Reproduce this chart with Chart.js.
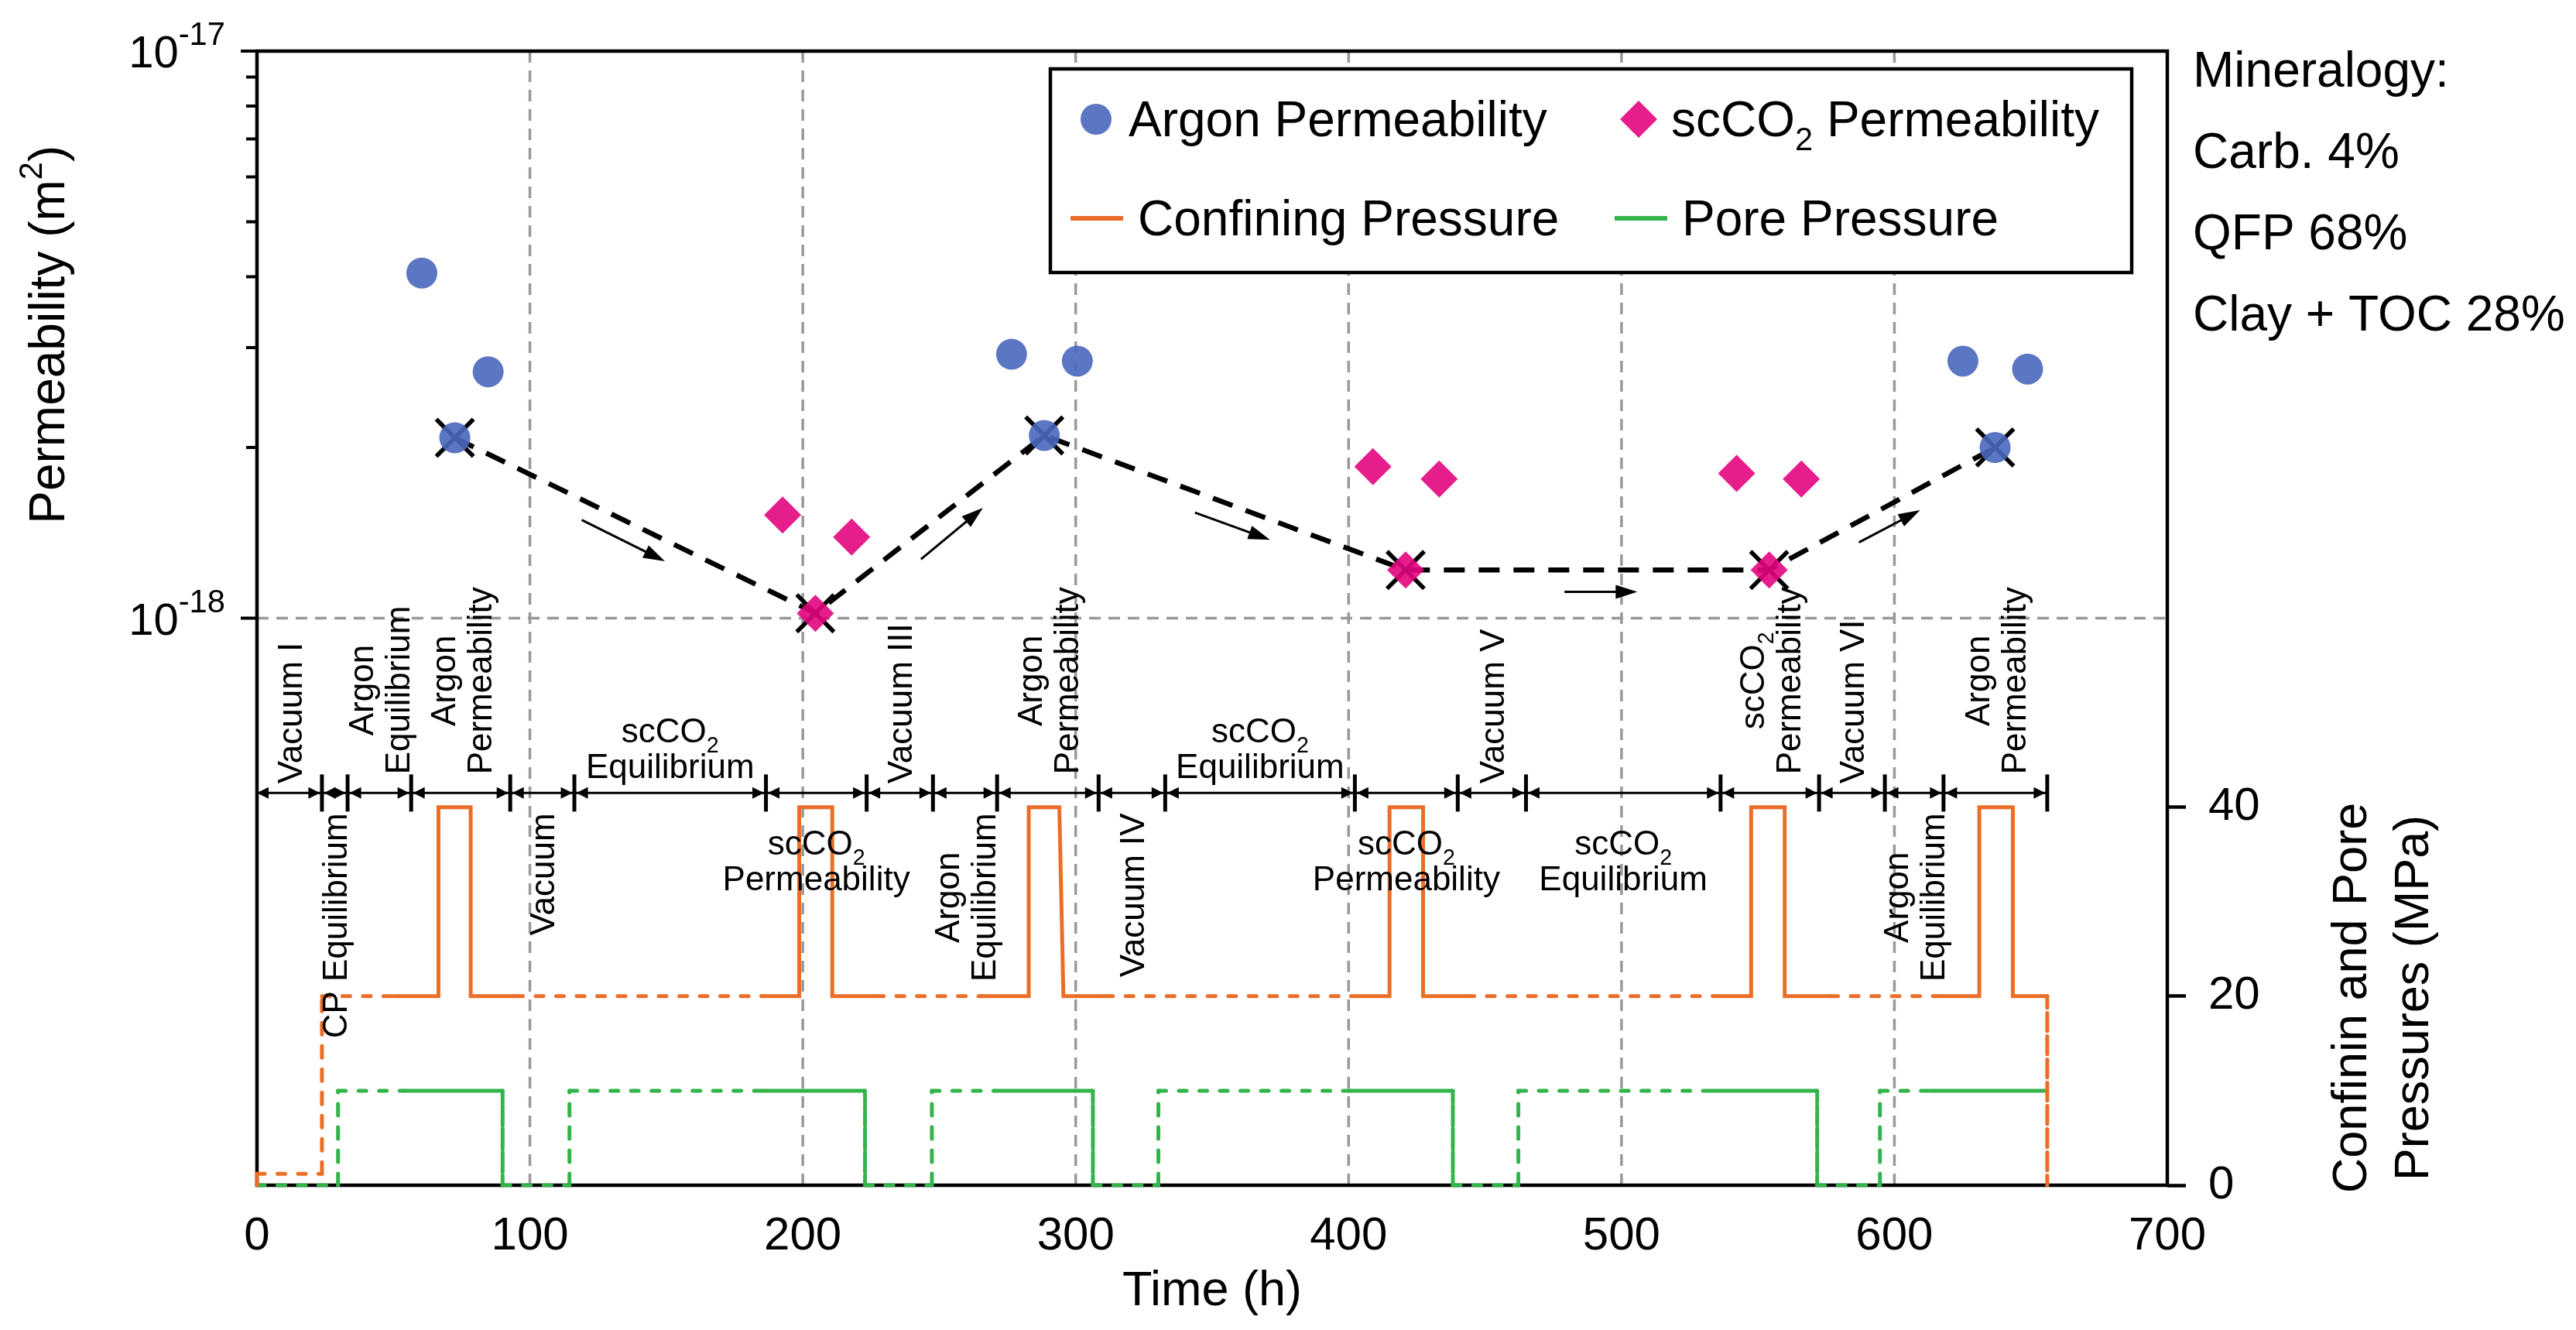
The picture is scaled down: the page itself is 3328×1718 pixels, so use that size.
<!DOCTYPE html>
<html>
<head>
<meta charset="utf-8">
<title>Permeability and pressure history</title>
<script src="https://cdn.jsdelivr.net/npm/chart.js"></script>
<style>
  html, body { margin: 0; padding: 0; background: #fff; }
  #chart { display: block; }
</style>
</head>
<body>
<canvas id="chart" width="3328" height="1718" style="width:3328px;height:1718px"></canvas>
<script>
// permeability measurements: time (h) and permeability (m2)
const argonTime = [60.4, 84.7, 72.5, 276.5, 300.6, 288.5, 625.1, 648.8, 636.9];
const argonPerm = [4.06e-18, 2.72e-18, 2.08e-18, 2.92e-18, 2.84e-18, 2.10e-18, 2.84e-18, 2.75e-18, 2.0e-18];
const co2Time = [192.6, 217.9, 204.6, 408.9, 433.2, 420.9, 542.2, 565.9, 554.1];
const co2Perm = [1.52e-18, 1.39e-18, 1.02e-18, 1.85e-18, 1.76e-18, 1.216e-18, 1.80e-18, 1.76e-18, 1.216e-18];

// crossed values joined by the dashed trend
const trendTime = [72.5, 204.6, 288.5, 420.9, 554.1, 636.9];
const trendPerm = [2.08e-18, 1.02e-18, 2.10e-18, 1.216e-18, 1.216e-18, 2.0e-18];

// small direction arrows beside the trend: [time, permeability]
const arrowFrom = [[119, 1.49e-18], [243.3, 1.27e-18], [343.7, 1.535e-18], [479.1, 1.113e-18], [587, 1.36e-18]];
const arrowTo = [[149.5, 1.26e-18], [266, 1.565e-18], [371.2, 1.375e-18], [505.8, 1.113e-18], [609.4, 1.55e-18]];

// confining pressure history (MPa); measured = 1 where the record is drawn solid
const cpTime = [0, 0, 23.8, 23.8, 50, 66.5, 66.5, 78.3, 78.3, 94.6, 185, 198.7, 198.7, 210.8, 210.8, 226.8,
  265.6, 282.8, 282.8, 294, 295.5, 310.8, 400.9, 415, 415, 427.3, 427.3, 443.2, 534.2, 547.5, 547.5, 559.8,
  559.8, 576.5, 615.5, 631.1, 631.1, 643.4, 643.4, 656, 656];
const cpValue = [0, 1.2, 1.2, 20, 20, 20, 40, 40, 20, 20, 20, 20, 40, 40, 20, 20,
  20, 20, 40, 40, 20, 20, 20, 20, 40, 40, 20, 20, 20, 20, 40, 40,
  20, 20, 20, 20, 40, 40, 20, 20, 0];
const cpMeasured = [1, 0, 0, 0, 1, 1, 1, 1, 1, 0, 1, 1, 1, 1, 1, 0, 1, 1, 1, 1, 1, 0, 1, 1, 1, 1, 1, 0,
  1, 1, 1, 1, 1, 0, 1, 1, 1, 1, 1, 0, 0];

// pore pressure history (MPa)
const ppTime = [0, 29.7, 29.7, 53.8, 90, 90, 114.5, 114.5, 185.2, 222.8, 222.8, 247.3, 247.3, 270.3, 306.3,
  306.3, 330.3, 330.3, 400, 438.2, 438.2, 462.2, 462.2, 533.3, 571.7, 571.7, 594.7, 594.7, 613.3, 656];
const ppValue = [0, 0, 10, 10, 10, 0, 0, 10, 10, 10, 0, 0, 10, 10, 10,
  0, 0, 10, 10, 10, 0, 0, 10, 10, 10, 0, 0, 10, 10, 10];
const ppMeasured = [0, 0, 0, 1, 0, 0, 0, 0, 1, 0, 0, 0, 0, 1, 0, 0, 0, 0, 1, 0, 0, 0, 0, 1, 0, 0, 0, 0, 1, 0];

// test phases: boundaries (h) and names
const phaseBounds = [0, 23.8, 33.2, 56.5, 92.8, 116.3, 186.5, 223.4, 247.7, 271.2, 308.4, 332.8, 402.3,
  440, 465, 536.3, 572.4, 596.5, 618, 656];
const phaseLabels = ['Vacuum I', 'CP Equilibrium', 'Argon\nEquilibrium', 'Argon\nPermeability', 'Vacuum',
  'scCO_2\nEquilibrium', 'scCO_2\nPermeability', 'Vacuum III', 'Argon\nEquilibrium', 'Argon\nPermeability',
  'Vacuum IV', 'scCO_2\nEquilibrium', 'scCO_2\nPermeability', 'Vacuum V', 'scCO_2\nEquilibrium',
  'scCO_2\nPermeability', 'Vacuum VI', 'Argon\nEquilibrium', 'Argon\nPermeability'];
const timelineLevel = 41.5; // MPa

// axes
const xTicks = [0, 100, 200, 300, 400, 500, 600, 700];
const yMajor = [1e-18, 1e-17];
const yMajorLabels = ['10^-18', '10^-17'];
const yMinor = [2e-18, 3e-18, 4e-18, 5e-18, 6e-18, 7e-18, 8e-18, 9e-18];
const y1Ticks = [0, 20, 40];
const mineralogy = ['Mineralogy:', 'Carb. 4%', 'QFP 68%', 'Clay + TOC 28%'];

// ---- layout of the phase labels (side of the time line, rotation) ----
const phaseLayout = ['up-rot', 'down-rot', 'up-rot', 'up-rot', 'down-rot', 'up-hor', 'down-hor', 'up-rot',
  'down-rot', 'up-rot', 'down-rot', 'up-hor', 'down-hor', 'up-rot', 'down-hor', 'up-rot', 'up-rot',
  'down-rot', 'up-rot'];

const FAMILY = '"Liberation Sans", Arial, Helvetica, sans-serif';
const font = px => px + 'px ' + FAMILY;

const BLUE = 'rgba(73,103,187,0.9)';
const PINK = 'rgba(227,5,127,0.9)';
const ORANGE = '#eb6e28';
const GREEN = '#33b44a';

const pts = (xs, ys) => xs.map((t, i) => ({x: t, y: ys[i]}));

function segDash(c, flags) {
  if (flags[c.p0DataIndex]) return undefined;
  return Math.abs(c.p0.x - c.p1.x) < 1 ? [15, 15] : [10, 16.5];
}

// text with _sub and ^sup parts
function richParts(str) {
  const parts = [];
  let buf = '';
  for (let i = 0; i < str.length; i++) {
    const c = str[i];
    if (c === '_' || c === '^') {
      if (buf) parts.push([buf, 0]);
      buf = '';
      let j = i + 1, s = '';
      while (j < str.length && /[0-9\-]/.test(str[j])) { s += str[j]; j++; }
      parts.push([s, c === '_' ? -1 : 1]);
      i = j - 1;
    } else buf += c;
  }
  if (buf) parts.push([buf, 0]);
  return parts;
}
function richWidth(ctx, str, size, o) {
  o = o || {};
  let w = 0;
  richParts(str).forEach(([t, m]) => {
    ctx.font = font(m ? size * (o.small || 0.65) : size);
    w += ctx.measureText(t).width;
  });
  return w;
}
function drawRich(ctx, str, x, y, size, align, o) {
  o = o || {};
  const w = richWidth(ctx, str, size, o);
  let cx = align === 'center' ? x - w / 2 : align === 'right' ? x - w : x;
  ctx.textAlign = 'left';
  ctx.textBaseline = 'alphabetic';
  richParts(str).forEach(([t, m]) => {
    ctx.font = font(m ? size * (o.small || 0.65) : size);
    const dy = m === 1 ? -size * (o.rise || 0.42) : m === -1 ? size * (o.drop || 0.28) : 0;
    ctx.fillText(t, cx, y + dy);
    cx += ctx.measureText(t).width;
  });
}

const overlay = {
  id: 'overlay',
  beforeDatasetsDraw(chart) {
    const {ctx, chartArea: a, scales: {x, y}} = chart;
    const line = (x0, y0, x1, y1) => { ctx.beginPath(); ctx.moveTo(x0, y0); ctx.lineTo(x1, y1); ctx.stroke(); };
    ctx.save();
    ctx.strokeStyle = '#999';
    ctx.lineWidth = 3.5;
    ctx.setLineDash([15, 10]);
    x.ticks.forEach(t => {
      if (t.value > x.min && t.value < x.max) {
        const px = x.getPixelForValue(t.value);
        line(px, a.top, px, a.bottom);
      }
    });
    yMajor.forEach(v => {
      if (v < y.max) { const py = y.getPixelForValue(v); line(a.left, py, a.right, py); }
    });
    ctx.setLineDash([]);
    ctx.strokeStyle = '#000';
    ctx.lineWidth = 4.5;
    ctx.strokeRect(a.left, a.top, a.right - a.left, a.bottom - a.top);
    ctx.lineWidth = 4;
    yMajor.forEach(v => { const py = y.getPixelForValue(v); line(a.left - 21, py, a.left, py); });
    yMinor.forEach(v => { const py = y.getPixelForValue(v); line(a.left - 14, py, a.left, py); });
    ctx.restore();
  },
  afterDatasetsDraw(chart) {
    const {ctx, chartArea: a, scales: {x, y, y1}} = chart;
    const line = (x0, y0, x1, y1_) => { ctx.beginPath(); ctx.moveTo(x0, y0); ctx.lineTo(x1, y1_); ctx.stroke(); };
    const head = (tx, ty, ang, len, hw) => {
      ctx.beginPath();
      ctx.moveTo(tx, ty);
      ctx.lineTo(tx - len * Math.cos(ang) + hw * Math.sin(ang), ty - len * Math.sin(ang) - hw * Math.cos(ang));
      ctx.lineTo(tx - len * Math.cos(ang) - hw * Math.sin(ang), ty - len * Math.sin(ang) + hw * Math.cos(ang));
      ctx.closePath();
      ctx.fill();
    };
    ctx.save();
    ctx.fillStyle = '#000';
    ctx.strokeStyle = '#000';

    // trend arrows
    ctx.lineWidth = 3;
    arrowFrom.forEach((p, i) => {
      const x0 = x.getPixelForValue(p[0]), y0 = y.getPixelForValue(p[1]);
      const x1 = x.getPixelForValue(arrowTo[i][0]), y1p = y.getPixelForValue(arrowTo[i][1]);
      const ang = Math.atan2(y1p - y0, x1 - x0);
      line(x0, y0, x1 - 10 * Math.cos(ang), y1p - 10 * Math.sin(ang));
      head(x1, y1p, ang, 28, 9);
    });

    // phase time line
    const yT = y1.getPixelForValue(timelineLevel);
    const xs = phaseBounds.map(v => x.getPixelForValue(v));
    ctx.lineWidth = 3;
    line(xs[0], yT, xs[xs.length - 1], yT);
    ctx.lineWidth = 5;
    xs.forEach((px, i) => { if (i > 0) line(px, yT - 24, px, yT + 24); });
    for (let k = 0; k < xs.length - 1; k++) {
      head(xs[k] + (k ? 2.5 : 0), yT, Math.PI, 15, 7.5);
      head(xs[k + 1] - 2.5, yT, 0, 15, 7.5);
    }

    // phase names
    const ls = 44;
    phaseLabels.forEach((txt, k) => {
      const lines = txt.split('\n');
      const cx = x.getPixelForValue((phaseBounds[k] + phaseBounds[k + 1]) / 2);
      const [side, orient] = phaseLayout[k].split('-');
      if (orient === 'rot') {
        let W = 0;
        lines.forEach(s => { W = Math.max(W, richWidth(ctx, s, ls)); });
        const cy = side === 'up' ? yT - (lines.length > 1 ? 24 : 12) - W / 2 : yT + 26 + W / 2;
        ctx.save();
        ctx.translate(cx, cy);
        ctx.rotate(-Math.PI / 2);
        lines.forEach((s, i) => drawRich(ctx, s, 0, (i - (lines.length - 1) / 2) * 47 + ls * 0.36, ls, 'center'));
        ctx.restore();
      } else {
        lines.forEach((s, i) => {
          const base = side === 'up' ? yT - 19 - (lines.length - 1 - i) * 46 : yT + 80 + i * 46;
          drawRich(ctx, s, cx, base, ls, 'center');
        });
      }
    });

    // left tick labels
    yMajor.forEach((v, i) => {
      drawRich(ctx, yMajorLabels[i], a.left - 41, y.getPixelForValue(v) + 21, 58, 'right', {small: 0.72, rise: 0.5});
    });

    // axis titles
    ctx.save();
    ctx.translate(60, (y.getPixelForValue(1e-17) + y.getPixelForValue(1e-18)) / 2);
    ctx.rotate(-Math.PI / 2);
    drawRich(ctx, 'Permeability (m^2)', 0, 23, 64, 'center', {small: 0.65, rise: 0.45});
    ctx.restore();

    ctx.save();
    ctx.translate(3074, 1289);
    ctx.rotate(-Math.PI / 2);
    drawRich(ctx, 'Confinin and Pore', 0, -40 + 23, 63, 'center');
    drawRich(ctx, 'Pressures (MPa)', 0, 40 + 23, 63, 'center');
    ctx.restore();

    drawRich(ctx, 'Time (h)', (a.left + a.right) / 2, 1686, 63, 'center');

    // mineralogy note
    mineralogy.forEach((s, i) => drawRich(ctx, s, 2833, 112 + i * 105, 64, 'left'));

    // legend
    const L = {x: 1357, y: 89, w: 1397, h: 263};
    ctx.fillStyle = '#fff';
    ctx.fillRect(L.x, L.y, L.w, L.h);
    ctx.lineWidth = 4.5;
    ctx.strokeRect(L.x, L.y, L.w, L.h);
    const ds = chart.data.datasets;
    const r1 = 154, r2 = 282;
    ctx.fillStyle = ds[0].backgroundColor;
    ctx.beginPath(); ctx.arc(1416, r1, 20, 0, Math.PI * 2); ctx.fill();
    ctx.fillStyle = ds[1].backgroundColor;
    ctx.beginPath();
    ctx.moveTo(2117 - 24, r1); ctx.lineTo(2117, r1 - 24); ctx.lineTo(2117 + 24, r1); ctx.lineTo(2117, r1 + 24);
    ctx.closePath(); ctx.fill();
    ctx.lineWidth = 6;
    ctx.strokeStyle = ds[3].borderColor; line(1383, r2, 1451, r2);
    ctx.strokeStyle = ds[4].borderColor; line(2086, r2, 2154, r2);
    ctx.fillStyle = '#000';
    drawRich(ctx, ds[0].label, 1458, r1 + 22, 64, 'left');
    drawRich(ctx, 'scCO_2 Permeability', 2159, r1 + 22, 64, 'left');
    drawRich(ctx, ds[3].label, 1470, r2 + 22, 64, 'left');
    drawRich(ctx, ds[4].label, 2173, r2 + 22, 64, 'left');
    ctx.restore();
  }
};

new Chart(document.getElementById('chart'), {
  type: 'scatter',
  data: {
    datasets: [
      {
        label: 'Argon Permeability',
        data: pts(argonTime, argonPerm),
        yAxisID: 'y',
        pointStyle: 'circle',
        pointRadius: 20,
        backgroundColor: BLUE,
        borderWidth: 0
      },
      {
        label: 'scCO2 Permeability',
        data: pts(co2Time, co2Perm),
        yAxisID: 'y',
        pointStyle: 'rectRot',
        pointRadius: 24,
        backgroundColor: PINK,
        borderWidth: 0
      },
      {
        label: 'Trend',
        data: pts(trendTime, trendPerm),
        yAxisID: 'y',
        showLine: true,
        borderColor: '#000',
        borderWidth: 6.5,
        borderDash: [27, 18],
        pointStyle: 'crossRot',
        pointRadius: 34,
        pointBorderColor: '#000',
        pointBorderWidth: 5.5,
        pointBackgroundColor: '#000'
      },
      {
        label: 'Confining Pressure',
        data: pts(cpTime, cpValue),
        yAxisID: 'y1',
        showLine: true,
        pointRadius: 0,
        borderColor: ORANGE,
        borderWidth: 5,
        borderCapStyle: 'round',
        borderJoinStyle: 'miter',
        clip: false,
        segment: { borderDash: c => segDash(c, cpMeasured) }
      },
      {
        label: 'Pore Pressure',
        data: pts(ppTime, ppValue),
        yAxisID: 'y1',
        showLine: true,
        pointRadius: 0,
        borderColor: GREEN,
        borderWidth: 5,
        borderCapStyle: 'round',
        borderJoinStyle: 'miter',
        clip: false,
        segment: { borderDash: c => segDash(c, ppMeasured) }
      }
    ]
  },
  options: {
    responsive: false,
    devicePixelRatio: 1,
    animation: false,
    events: [],
    layout: { padding: { top: 66, left: 0, right: 0, bottom: 0 } },
    plugins: { legend: { display: false }, tooltip: { enabled: false } },
    scales: {
      x: {
        type: 'linear',
        min: xTicks[0],
        max: xTicks[xTicks.length - 1],
        afterBuildTicks: s => { s.ticks = xTicks.map(v => ({value: v})); },
        ticks: { font: { size: 60, family: FAMILY }, color: '#000', padding: 30, maxRotation: 0, autoSkip: false },
        grid: { display: false, drawTicks: false },
        border: { display: false },
        afterFit: s => { s.height = 187; }
      },
      y: {
        type: 'logarithmic',
        position: 'left',
        min: 1e-19,
        max: 1e-17,
        ticks: { display: false },
        grid: { display: false, drawTicks: false },
        border: { display: false },
        afterFit: s => { s.width = 332; }
      },
      y1: {
        type: 'linear',
        position: 'right',
        min: 0,
        max: 120,
        afterBuildTicks: s => { s.ticks = y1Ticks.map(v => ({value: v})); },
        ticks: { font: { size: 60, family: FAMILY }, color: '#000', padding: 29 },
        grid: { display: true, drawOnChartArea: false, drawTicks: true, tickLength: 24, tickWidth: 4.5, tickColor: '#000' },
        border: { display: false },
        afterFit: s => { s.width = 528; }
      }
    }
  },
  plugins: [overlay]
});
</script>
</body>
</html>
